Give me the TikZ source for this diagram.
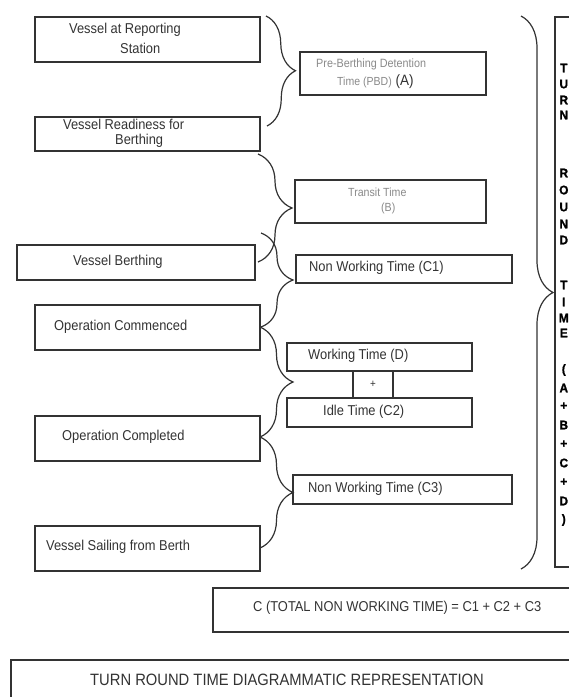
\documentclass[tikz,border=0pt]{standalone}
\usepackage{fontspec}
\setmainfont{Liberation Sans}[FakeStretch=0.9]
\newfontfamily\heavyfont{Liberation Sans}[FakeStretch=0.95, FakeBold=1.2]
\usetikzlibrary{decorations.pathreplacing}
\definecolor{ink}{HTML}{333333}
\definecolor{soft}{HTML}{8A8A8A}
\begin{document}
\begin{tikzpicture}[x=1pt,y=-1pt,
  box/.style={draw=ink, line width=1.5pt, inner sep=0pt, rectangle},
  txt/.style={inner sep=0pt, anchor=west, text=ink, font=\fontsize{14.3}{16}\selectfont},
  greytxt/.style={inner sep=0pt, anchor=west, text=soft, font=\fontsize{12}{14}\selectfont},
  vlet/.style={inner sep=0pt, anchor=center, text=black, font=\heavyfont\fontsize{12.5}{14}\bfseries\selectfont},
  brc/.style={draw=ink, line width=1.2pt, decorate, decoration={brace, amplitude=#1}},
]
\clip (0,0) rectangle (569,697);
\fill[white] (0,0) rectangle (569,697);

% event boxes on the left
\node[box, minimum width=225, minimum height=45] (vrs) at (147.5,39.5) {};
\node[box, minimum width=225, minimum height=34] (vrb) at (147.5,134) {};
\node[box, minimum width=238, minimum height=35] (vb) at (136,262.5) {};
\node[box, minimum width=225, minimum height=45] (oc) at (147.5,327.5) {};
\node[box, minimum width=225, minimum height=45] (ocp) at (147.5,438.5) {};
\node[box, minimum width=225, minimum height=45] (vs) at (147.5,548.5) {};

\node[txt] (vrs1) at (69,30) {Vessel at Reporting};
\node[txt] (vrs2) at (120,48) {Station};
\node[txt] (vrb1) at (63,124) {Vessel Readiness for};
\node[txt] (vrb2) at (115,141) {Berthing};
\node[txt] (vbt) at (73,262) {Vessel Berthing};
\node[txt] (oct) at (54,327) {Operation Commenced};
\node[txt] (ocpt) at (62,437) {Operation Completed};
\node[txt] (vst) at (46,547) {Vessel Sailing from Berth};

% time period boxes
\node[box, minimum width=186, minimum height=43] (pbd) at (393,73.5) {};
\node[box, minimum width=191, minimum height=43] (tr) at (390.5,201.5) {};
\node[box, minimum width=216, minimum height=28] (c1) at (404,269) {};
\node[box, minimum width=185, minimum height=28] (wd) at (379.5,357) {};
\node[box, minimum width=40, minimum height=27] (pl) at (373,384.5) {};
\node[box, minimum width=185, minimum height=29] (idle) at (379.5,412.5) {};
\node[box, minimum width=219, minimum height=29] (c3) at (402.5,489.5) {};

\node[greytxt] (pbd1) at (316,64) {Pre-Berthing Detention};
\node[greytxt, font=\fontsize{11.7}{14}\selectfont] (pbd2) at (337,82) {Time (PBD)\textcolor{ink}{\fontsize{15}{16}\selectfont\ (A)}};
\node[greytxt, font=\fontsize{11.8}{14}\selectfont] (tr1) at (348,192) {Transit Time};
\node[greytxt, font=\fontsize{11.8}{14}\selectfont] (tr2) at (381,208) {(B)};
\node[txt] (c1t) at (309,268) {Non Working Time (C1)};
\node[txt] (wdt) at (308,356) {Working Time (D)};
\node[txt, anchor=center, font=\fontsize{11}{12}\selectfont] (plt) at (pl) {+};
\node[txt] (idlet) at (323,412) {Idle Time (C2)};
\node[txt] (c3t) at (308,489) {Non Working Time (C3)};

% braces joining events to periods
\coordinate (a1) at (266,16);  \coordinate (a2) at (267,126);
\coordinate (b1) at (258,154); \coordinate (b2) at (258,262);
\coordinate (d1) at (261,233); \coordinate (d2) at (261,327);
\coordinate (e1) at (260,327); \coordinate (e2) at (260,437);
\coordinate (f1) at (260,437); \coordinate (f2) at (260,548);
\coordinate (g1) at (521,16);  \coordinate (g2) at (521,569);
\draw[brc=29] (a1) -- (a2);
\draw[brc=34] (b1) -- (b2);
\draw[brc=32] (d1) -- (d2);
\draw[brc=33] (e1) -- (e2);
\draw[brc=33] (f1) -- (f2);
\draw[brc=32] (g1) -- (g2);

% total turn round time column
\node[box, minimum width=85, minimum height=550] (trt) at (597.5,292) {};
\foreach \yy/\ch in {68/T,84/U,100/R,115/N,
                     173/R,190/O,207/U,224/N,240/D,
                     285/T,302/I,318/M,333/E,
                     370/(,388/A,406/+,425/B,444/+,463/C,482/+,501/D,520/)}
  \node[vlet] (vl-\yy) at (563.8,\yy) {\ch};

% summary boxes
\node[box, minimum width=427, minimum height=44] (ctot) at (426.5,610) {};
\node[txt] (ctott) at (253,608) {C (TOTAL NON WORKING TIME) = C1 + C2 + C3};
\node[box, minimum width=629, minimum height=70] (ttl) at (325.5,695) {};
\node[txt, font=\fontsize{16.4}{18}\selectfont] (ttlt) at (90,680) {TURN ROUND TIME DIAGRAMMATIC REPRESENTATION};
\end{tikzpicture}
\end{document}
